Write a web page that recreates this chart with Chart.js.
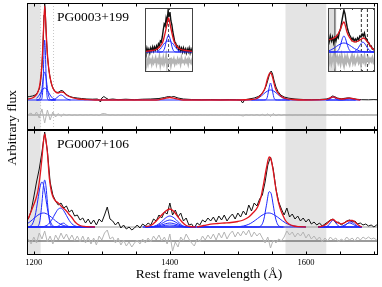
<!DOCTYPE html>
<html>
<head>
<meta charset="utf-8">
<script src="https://cdn.jsdelivr.net/npm/chart.js@4.4.1/dist/chart.umd.min.js"></script>
<style>
body{margin:0;background:#fff;width:382px;height:287px;overflow:hidden;position:relative;font-family:"Liberation Serif","Times New Roman",serif;}
canvas{position:absolute;}
.lab{position:absolute;font-size:13.5px;line-height:13.5px;white-space:nowrap;color:#000;}
</style>
</head>
<body>
<canvas id="top" width="382" height="131" style="left:0;top:0"></canvas>
<canvas id="bot" width="382" height="157" style="left:0;top:130px"></canvas>
<canvas id="in1" width="48" height="64" style="left:145px;top:8px"></canvas>
<canvas id="in2" width="47" height="64" style="left:328px;top:8px"></canvas>
<div class="lab" style="left:57px;top:10px">PG0003+199</div>
<div class="lab" style="left:57px;top:137px">PG0007+106</div>
<div class="lab" style="left:-28.5px;top:120.75px;width:80px;text-align:center;transform:rotate(-90deg)">Arbitrary flux</div>
<div class="lab" style="left:109px;top:267px;width:200px;text-align:center">Rest frame wavelength (Å)</div>
<script>
// -------- axes
const xMin = 1190, xMax = 1706;
const axisTicks = [1200,1250,1300,1350,1400,1450,1500,1550,1600,1650,1700];
const tickLabels = [1200,1400,1600];
const bands = [[1190,1210],[1570,1630]];
const topMarks = [1210,1229];

// common wavelength grid (4 A) used by the noisy spectra
const gridWave = [1192,1196,1200,1204,1208,1212,1216,1220,1224,1228,
	1232,1236,1240,1244,1248,1252,1256,1260,1264,1268,
	1272,1276,1280,1284,1288,1292,1296,1300,1304,1308,
	1312,1316,1320,1324,1328,1332,1336,1340,1344,1348,
	1352,1356,1360,1364,1368,1372,1376,1380,1384,1388,
	1392,1396,1400,1404,1408,1412,1416,1420,1424,1428,
	1432,1436,1440,1444,1448,1452,1456,1460,1464,1468,
	1472,1476,1480,1484,1488,1492,1496,1500,1504,1508,
	1512,1516,1520,1524,1528,1532,1536,1540,1544,1548,
	1552,1556,1560,1564,1568,1572,1576,1580,1584,1588,
	1592,1596,1600,1604,1608,1612,1616,1620,1624,1628,
	1632,1636,1640,1644,1648,1652,1656,1660,1664,1668,
	1672,1676,1680,1684,1688,1692,1696,1700,1704,1708];

// -------- PG0003+199 (top)
const topWave = [1190,1194,1198,1202,1205,1208,1210,1212,1213.5,1215,
	1216,1217,1218.5,1220,1222,1224,1226,1228,1231,1234,
	1237,1240,1243,1246,1249,1253,1258,1264,1270,1278,
	1286,1294,1298,1300,1303,1306,1310,1316,1324,1335,
	1348,1360,1372,1384,1392,1398,1402,1406,1412,1420,
	1432,1446,1460,1474,1488,1498,1504,1507,1510,1516,
	1524,1530,1535,1539,1542,1545,1547,1549,1551,1553,
	1556,1559,1563,1568,1575,1584,1596,1608,1620,1630,
	1635,1639,1642,1646,1652,1658,1663,1668,1674,1682,
	1692,1700,1706];
const topFlux = [3,3.5,4,5,7,11,18,34,55,85,
	96,88,62,44,31,22,16,12,9,7.5,
	8,9.5,9,7,5,3.5,2.5,2,1.5,1,
	0.8,1,-2,2,3.5,2,0.5,1,0.3,0.8,
	0.3,0.8,1,1.5,2.5,3.5,3,3.5,2,1,
	0.5,0.3,0.5,0.2,0.5,0.3,0,-3,0.2,1,
	2,3.5,6,10,15,22,27,29,26,20,
	13,8.5,5,3,1.8,1,0.5,0.3,0.5,1,
	2,4,3.5,2,1.2,1.8,2.2,1.5,0.8,0.3,
	0.2,0.4,0.2];
const topModelWave = [1190,1198,1202,1206,1209,1212,1214,1216,1218,1220,
	1222,1225,1228,1232,1236,1240,1244,1248,1252,1258,
	1265,1275,1290,1380,1392,1400,1408,1420,1500,1520,
	1526,1531,1536,1540,1543,1546,1548,1550,1552,1555,
	1559,1564,1570,1580,1600,1625,1632,1636,1640,1644,
	1650,1656,1660,1664,1668,1674,1680];
const topModel = [1,2,4,8,16,36,65,94,70,46,
	31,19,12,8,7,8,7.5,5,3.5,2,
	1,0.5,0,0,1.5,2.5,1.5,0,0,0.5,
	1,3,7,12,20,26,27,25,20,12,
	7,3.5,1.5,0.5,0,0.3,1,2.2,3.2,2.2,
	1,1,1.6,1.8,1.5,0.6,0];
const topLyaWave = [1204,1208,1210,1212,1213.5,1215,1216,1217,1218.5,1220,1222,1224,1228,1232];
const topLyaNarrow = [0,0,0,1.7,15,48,60,48,15,1.7,0,0,0,0];
const topLyaMid = [0,0.8,3.8,11.5,19.8,26.5,28,26.5,19.8,11.5,3.8,0.8,0,0];
const topLyaBroad = [1.6,4.9,7.3,9.6,10.9,11.8,12,11.8,10.9,9.6,7.3,4.9,1.6,0.3];
const topNvWave = [1226,1230,1234,1238,1240,1242,1246,1250,1254];
const topNv = [0.1,0.7,2.4,4.6,5,4.6,2.4,0.7,0.1];
const topCivWave = [1520,1526,1532,1538,1540,1543,1546,1548,1550,1553,1556,1558,1564,1570,1576];
const topCivNarrow = [0,0,0,0,0.1,2.3,12.3,17,12.3,2.3,0.1,0,0,0,0];
const topCivBroad = [0.2,0.9,2.8,6.1,7.3,8.8,9.8,10,9.8,8.8,7.3,6.1,2.8,0.9,0.2];
const topHeWave = [1630,1634,1637,1640,1643,1646,1650,1655,1660,1664,1668,1673];
const topHe = [0,0.4,1.8,3,1.8,0.4,0,0,0,0,0,0];
const topO3 = [0,0,0,0,0,0,0,0.1,0.9,1.5,0.9,0.1];
const topRes = [-14.5,-13,-16,-12,-18,-9,-23,-10,-20,-12,
	-17,-13.5,-16.5,-14,-15.5,-14.5,-15.5,-14.8,-15.4,-14.7,
	-15.3,-14.8,-15.2,-14.6,-15.3,-14.8,-15.6,-13.8,-13.5,-14.5,
	-15.2,-14.8,-15.3,-14.9,-15.2,-14.8,-15.1,-14.9,-15.2,-14.8,
	-15.2,-14.9,-15.1,-14.8,-15.2,-14.9,-15.3,-14.7,-15.2,-14.6,
	-15.4,-14.5,-15.5,-14.7,-15.3,-14.8,-15.1,-14.9,-15.2,-14.8,
	-15.1,-14.9,-15.2,-14.8,-15.1,-14.9,-15.2,-14.8,-15.1,-14.9,
	-15.2,-14.8,-15.1,-14.9,-15.2,-14.8,-15.1,-14.9,-15.4,-16,
	-14.6,-15.3,-14.7,-15.4,-14.5,-15.6,-14.3,-15.8,-13.8,-16.5,
	-13.5,-15.8,-14.4,-15.5,-14.6,-15.4,-14.5,-15.5,-14.6,-15.3,
	-14.7,-15.4,-14.6,-15.3,-14.7,-15.2,-14.8,-15.2,-14.8,-15.3,
	-14.7,-15.4,-14.6,-15.2,-14.8,-15.2,-14.8,-15.1,-14.9,-15.2,
	-14.8,-15.1,-14.9,-15.2,-14.8,-15.1,-14.9,-15.2,-14.8,-15];

// -------- PG0007+106 (bottom)
const botFlux = [8,16,30,45,58,75,95,76,45,32,
	26,22,24,19,21,15,17,11,12,7,
	9,4,8,3,7,2,8,5,12,20,
	8,6,2,5,-1,2,-2,0,-3,-1,
	2,-1,3,1,4,2,8,6,12,9,
	15,13,24,12,17,10,14,6,9,2,
	3,-1,4,2,7,5,9,6,10,5,
	11,7,12,6,10,13,8,14,10,16,
	12,22,16,24,21,28,32,45,62,70,
	58,38,25,18,12,19,10,13,8,11,
	6,9,5,8,3,5,2,4,1,3,
	5,7,8,4,5,2,4,6,7,5,
	6,3,4,2,3,1,2,0,2,1];
const botRes = [-12,-17,-10,-16,-6,-12,-4,-15,-9,-17,
	-8,-13,-6,-12,-7,-13,-8,-14,-9,-15,
	-9,-16,-10,-17,-11,-18,-9,-13,-6,-3,
	-12,-10,-16,-11,-18,-13,-19,-15,-20,-16,
	-13,-17,-12,-16,-11,-15,-9,-13,-8,-14,
	-10,-17,-7,-24,-15,-20,-10,-14,-7,-12,
	-16,-19,-12,-15,-9,-13,-8,-12,-7,-13,
	-6,-11,-5,-12,-7,-4,-10,-5,-9,-4,
	-8,-3,-10,-5,-9,-6,-11,-16,-10,-21,
	-13,-16,-12,-14,-10,-4,-8,-5,-10,-6,
	-9,-5,-11,-7,-12,-9,-13,-10,-15,-11,
	-14,-10,-13,-11,-15,-12,-14,-10,-13,-11,
	-14,-10,-13,-10,-12,-10,-12,-11,-13,-12];
const botLyaWave = [1190,1194,1198,1202,1206,1209,1212,1214,1216,1218,1220,1223,1226,1229,1232,1236,1240,1244,1248,1252,1256,1260,1264,1268,1274,1282,1290];
const botLyaModel = [6,12,19,26,36,50,69,84,93,86,74,48,35,29,26,24,21,18.5,16,12.5,9.5,5.5,3,1.5,0.6,0.2,0];
const botLyaA = [0,0.5,3,11.2,27.3,39.7,45,42.6,36,27.3,18.4,8.4,3,0.8,0.2,0,0,0,0,0,0,0,0,0,0,0,0];
const botLyaB = [0,0,0,0,0.8,6.3,24.6,40,47,40,24.6,6.3,0.8,0,0,0,0,0,0,0,0,0,0,0,0,0,0];
const botLyaC = [0,0,0,0,0.1,0.1,0.2,0.4,0.7,1.3,2,3.9,6.7,10.3,14,18,18.9,16.3,11.5,6.7,3.2,1.3,0.4,0.1,0,0,0];
const botLyaD = [0,0,0,0,0,0,0,0,0,0,0,0,0,0,0.1,0.9,3,3.9,1.8,0.3,0,0,0,0,0,0,0];
const botLyaE = [3.2,5,7.3,9.7,11.9,13.1,13.9,14,13.9,13.4,12.8,11.4,9.7,7.9,6.1,4.1,2.5,1.4,0.7,0.3,0.1,0,0,0,0,0,0];
const siWave = [1364,1372,1380,1388,1394,1400,1406,1412,1418,1424,1430,1438];
const siModel = [0.5,1.5,6,12,16,18,15.5,10,5,1.5,0.5,0];
const si1 = [0,0.2,1.5,5.4,9.2,11,9.2,5.4,1.5,0.2,0,0];
const si2 = [0,0.1,1,3.4,5.8,7,5.8,3.4,1,0.1,0,0];
const si3 = [0,0.1,0.5,2,3.3,4,3.3,2,0.5,0.1,0,0];
const si4 = [0,0,0.3,1,1.7,2,1.7,1,0.3,0,0,0];
const civWave = [1440,1450,1460,1470,1480,1490,1500,1508,1516,1522,1529,1534,1538,1542,1546,1549,1552,1555,1558,1562,1566,1570,1575,1582,1590,1600];
const civModel = [0,1.5,2.8,3.5,4,4.5,5.5,7,10,14,20,30,44,59,70,67,56,42,30,19,12,6.5,3,1,0.3,0];
const civNarrow = [0,0,0,0,0,0,0,0,0,0,0,1.2,7.1,21.8,35.3,33.2,21.8,10,3.2,0.4,0,0,0,0,0,0];
const civBroad = [0,0,0,0,0,0,0.3,1,2.7,5,8.5,11.1,12.7,13.8,14,13.6,12.7,11.5,10.1,8,5.9,4.1,2.4,1,0.3,0.1];
const heWave = [1618,1624,1628,1632,1636,1640,1644,1648,1652,1656,1660,1664,1668,1672,1676,1682];
const heModel = [0,0.8,2,4,6.5,7.5,5.5,3.8,3.2,4,5.5,6.5,6.5,5,2.5,0];
const heII = [0,0,0.1,0.9,4.2,7,4.2,0.9,0.1,0,0,0,0,0,0,0];
const o3a = [0,0,0,0,0,0,0,0,0.1,0.7,2.7,5.1,5.1,2.7,0.7,0];
const o3b = [0,0,0,0,0,0,0,0.1,0.5,1.6,3.2,4,3.2,1.6,0.5,0.1];
const botBaseStart = [1190,1360,1618];
const botBaseEnd = [1265,1567,1682];

// -------- inset 1
const in1Wave = [1500,1502,1504,1506,1508,1510,1512,1514,1516,1518,
	1520,1522,1524,1526,1528,1530,1532,1534,1536,1538,
	1540,1542,1544,1546,1548,1550,1552,1554,1556,1558,
	1560,1562,1564,1566,1568,1570,1572,1574,1576,1578,
	1580,1582,1584,1586,1588,1590,1592,1594,1596,1598,1600];
const in1Flux = [3,-1,4,0,3,-1,4,1,5,1,
	5,2,6,3,8,6,11,10,15,22,
	28,26,34,30,41,36,40,31,27,20,
	15,10,9,5,6,2,5,1,4,0,
	4,0,3,-1,3,0,4,-1,3,0,2];
const in1Res = [-7,-11,-8,-12,-6,-10,-8,-12,-7,-11,
	-9,-6,-12,-8,-10,-5,-13,-8,-11,-6,
	-12,-9,-4,-14,-9,-11,-6,-13,-8,-10,
	-7,-12,-9,-11,-7,-10,-8,-12,-6,-10,
	-9,-11,-7,-10,-8,-12,-7,-9,-11,-8,-10];
const in1ModelWave = [1500,1515,1525,1532,1537,1541,1545,1549,1553,1557,1561,1566,1573,1585,1600];
const in1Model = [0.5,1.5,3,6,10,17,26,34,26,17,10,6,3,1.5,0.5];
const in1CompWave = [1525,1531,1537,1541,1545,1549,1553,1557,1561,1567,1573];
const in1Narrow = [0,0,0.5,4,12,17,12,4,0.5,0,0];
const in1Broad = [0.5,2.5,6.5,9,10.5,11,10.5,9,6.5,2.5,0.5];

// -------- inset 2
const in2Wave = [1195,1196.5,1198,1199.5,1201,1202.5,1204,1205.5,1207,1208.5,
	1210,1211.5,1213,1214.5,1216,1217.5,1219,1220.5,1222,1223.5,
	1225,1226.5,1228,1229.5,1231,1232.5,1234,1235.5,1237,1238.5,
	1240,1241.5,1243,1244.5,1246,1247.5,1249,1250.5,1252,1253.5,1255,1256.5];
const in2Flux = [14,10,16,11,15,9,14,11,16,14,
	20,23,30,36,42,38,30,24,20,17,
	15,12,14,11,13,11,14,12,16,15,
	18,16,19,14,13,10,9,6,6,3,3,1];
const in2Res = [-6,-10,-5,-11,-7,-4,-12,-8,-5,-10,
	-6,-11,-4,-9,-13,-6,-10,-5,-9,-12,
	-7,-4,-10,-6,-11,-8,-5,-10,-7,-12,
	-6,-9,-5,-11,-8,-6,-10,-7,-9,-6,-10,-8];
const in2ModelWave = [1195,1200,1205,1209,1212,1214,1216,1218,1220,1223,1227,1231,1235,1239,1242,1245,1249,1253,1257];
const in2Model = [12,13,15,19,24,28,30,26,20,15,11,10,11,13,14,12,8,4,1.5];
const in2CompWave = [1195,1199,1203,1206,1209,1212,1214,1216,1218,1220,1223,1226,1230,1234,1237,1241,1245,1248,1252,1256];
const in2Narrow = [0,0,0,0.3,2.2,8.3,13.6,16,13.6,8.3,2.2,0.3,0,0,0,0,0,0,0,0];
const in2Broad = [1,2.1,3.9,5.5,7,8.3,8.8,9,8.8,8.3,7,5.5,3.4,1.8,1,0.4,0.1,0,0,0];
const in2Nv = [0,0,0,0,0,0,0,0,0,0,0,0,0.5,3,6.7,10,6.7,3,0.5,0];
const in2Ticks = [1211,1226,1240,1254];

const RED = '#e0141e', BLUE = '#1e28ff', BLACK = '#111', GREY = '#b4b4b4';

function pts(xs, ys){ return xs.map(function(x,i){ return {x:x, y:ys[i]}; }); }
function flat(x0, x1, y){ return [{x:x0,y:y},{x:x1,y:y}]; }
function vert(x, y0, y1){ return [{x:x,y:y0},{x:x,y:y1}]; }
function segs(starts, ends, y){
	var d = [];
	starts.forEach(function(s,i){ d.push({x:s,y:y},{x:ends[i],y:y},{x:ends[i],y:null}); });
	return d;
}
function ds(data, color, width, order, extra){
	return Object.assign({data:data, borderColor:color, borderWidth:width, order:order, pointRadius:0, fill:false, tension:0}, extra||{});
}
const smooth = {cubicInterpolationMode:'monotone'};

// bands, frame and inward ticks drawn from the x scale
const decor = {
	id: 'decor',
	beforeDraw: function(chart, args, o){
		var a = chart.chartArea, ctx = chart.ctx, x = chart.scales.x;
		ctx.save();
		if(o.bg){ ctx.fillStyle = o.bg; ctx.fillRect(a.left, a.top, a.right-a.left, a.bottom-a.top); }
		(o.bands||[]).forEach(function(b){
			var p0 = Math.max(a.left, x.getPixelForValue(b[0]));
			var p1 = Math.min(a.right, x.getPixelForValue(b[1]));
			ctx.fillStyle = o.bandColor;
			ctx.fillRect(p0, a.top, p1-p0, a.bottom-a.top);
		});
		ctx.restore();
	},
	afterDatasetsDraw: function(chart, args, o){
		var a = chart.chartArea, ctx = chart.ctx, x = chart.scales.x;
		ctx.save();
		ctx.strokeStyle = o.frame;
		ctx.lineWidth = 1;
		ctx.strokeRect(a.left+0.5, a.top+0.5, a.right-a.left-1, a.bottom-a.top-1);
		ctx.beginPath();
		(o.ticks||[]).forEach(function(v){
			var p = Math.round(x.getPixelForValue(v))+0.5;
			ctx.moveTo(p, a.top); ctx.lineTo(p, a.top+o.tickLen);
			ctx.moveTo(p, a.bottom); ctx.lineTo(p, a.bottom-o.tickLen);
		});
		ctx.stroke();
		ctx.restore();
	}
};

function makeChart(id, datasets, xr, yr, pad, decorOpts, showLabels){
	var xScale = {type:'linear', min:xr[0], max:xr[1], display:!!showLabels,
		grid:{display:false, drawTicks:false}, border:{display:false},
		ticks:{autoSkip:false, maxRotation:0, padding:3, color:'#000',
			font:{family:'Liberation Serif', size:8.5},
			callback:function(v){ return String(v); }}
	};
	if(showLabels){
		xScale.afterBuildTicks = function(s){ s.ticks = tickLabels.map(function(v){ return {value:v}; }); };
		xScale.afterFit = function(s){ s.height = 32; s.paddingLeft = 0; s.paddingRight = 0; };
	}
	return new Chart(document.getElementById(id), {
		type:'line',
		data:{datasets:datasets},
		options:{
			responsive:false, animation:false, events:[], devicePixelRatio:1,
			layout:{padding:pad},
			plugins:{legend:{display:false}, tooltip:{enabled:false}, decor:decorOpts},
			scales:{x:xScale, y:{type:'linear', min:yr[0], max:yr[1], display:false}}
		},
		plugins:[decor]
	});
}

// top panel
makeChart('top', [
	ds(vert(topMarks[0],-30,97), '#c8c8c8', 1, 12, {borderDash:[1,2]}),
	ds(vert(topMarks[1],-30,97), '#c8c8c8', 1, 12, {borderDash:[1,2]}),
	ds(flat(xMin,xMax,-15), '#8c8c8c', 1, 11),
	ds(pts(gridWave,topRes), GREY, 1, 10),
	ds(pts(topWave,topFlux), BLACK, 1, 6),
	ds(flat(1190,1680,0), BLUE, 1.2, 4),
	ds(pts(topLyaWave,topLyaNarrow), BLUE, 1, 3, smooth),
	ds(pts(topLyaWave,topLyaMid), BLUE, 1, 3, smooth),
	ds(pts(topLyaWave,topLyaBroad), BLUE, 1, 3, smooth),
	ds(pts(topNvWave,topNv), BLUE, 1, 3, smooth),
	ds(pts(topCivWave,topCivNarrow), BLUE, 1, 3, smooth),
	ds(pts(topCivWave,topCivBroad), BLUE, 1, 3, smooth),
	ds(pts(topHeWave,topHe), BLUE, 1, 3, smooth),
	ds(pts(topHeWave,topO3), BLUE, 1, 3, smooth),
	ds(pts(topModelWave,topModel), RED, 1.3, 1, smooth)
], [xMin,xMax], [-30,97], {left:27, right:4, top:3, bottom:1},
	{bands:bands, bandColor:'#e4e4e4', frame:'#000', ticks:axisTicks, tickLen:3.5}, false);

// bottom panel
makeChart('bot', [
	ds(flat(xMin,xMax,0), '#9a9a9a', 1, 12),
	ds(flat(xMin,xMax,-14), '#7a7a7a', 1.4, 11),
	ds(pts(gridWave,botRes), GREY, 1, 10),
	ds(pts(gridWave,botFlux), BLACK, 1, 6),
	ds(segs(botBaseStart,botBaseEnd,0), BLUE, 1.3, 4),
	ds(pts(botLyaWave,botLyaA), BLUE, 1, 3, smooth),
	ds(pts(botLyaWave,botLyaB), BLUE, 1, 3, smooth),
	ds(pts(botLyaWave,botLyaC), BLUE, 1, 3, smooth),
	ds(pts(botLyaWave,botLyaD), BLUE, 1, 3, smooth),
	ds(pts(botLyaWave,botLyaE), BLUE, 1, 3, smooth),
	ds(pts(siWave,si1), BLUE, 1, 3, smooth),
	ds(pts(siWave,si2), BLUE, 1, 3, smooth),
	ds(pts(siWave,si3), BLUE, 1, 3, smooth),
	ds(pts(siWave,si4), BLUE, 1, 3, smooth),
	ds(pts(civWave,civNarrow), BLUE, 1, 3, smooth),
	ds(pts(civWave,civBroad), BLUE, 1, 3, smooth),
	ds(pts(heWave,heII), BLUE, 1, 3, smooth),
	ds(pts(heWave,o3a), BLUE, 1, 3, smooth),
	ds(pts(heWave,o3b), BLUE, 1, 3, smooth),
	ds(pts(botLyaWave,botLyaModel), RED, 1.3, 1, smooth),
	ds(pts(siWave,siModel), RED, 1.3, 1, smooth),
	ds(pts(civWave,civModel), RED, 1.3, 1, smooth),
	ds(pts(heWave,heModel), RED, 1.3, 1, smooth)
], [xMin,xMax], [-28,97], {left:27, right:4, top:0, bottom:0},
	{bands:bands, bandColor:'#e4e4e4', frame:'#000', ticks:axisTicks, tickLen:3.5}, true);

// inset 1
makeChart('in1', [
	ds(vert(1549,-20,44), '#555', 1, 12, {borderDash:[3,2]}),
	ds(flat(1500,1600,-10), '#777', 1, 11),
	ds(pts(in1Wave,in1Res), GREY, 2, 10),
	ds(pts(in1Wave,in1Flux), BLACK, 1.4, 6),
	ds(flat(1500,1600,0), BLUE, 1.2, 4),
	ds(pts(in1CompWave,in1Narrow), BLUE, 1, 3, smooth),
	ds(pts(in1CompWave,in1Broad), BLUE, 1, 3, smooth),
	ds(pts(in1ModelWave,in1Model), RED, 1.3, 1, smooth)
], [1500,1600], [-20,44], 0,
	{bg:'#fff', frame:'#444', ticks:[1549], tickLen:2}, false);

// inset 2
makeChart('in2', [
	ds(vert(1204,-20,44), '#777', 1.5, 12),
	ds(vert(1239,-20,44), '#333', 1, 12, {borderDash:[3,2]}),
	ds(vert(1247,-20,44), '#333', 1, 12, {borderDash:[3,2]}),
	ds(pts(in2Wave,in2Res), GREY, 2.5, 10),
	ds(pts(in2Wave,in2Flux), BLACK, 1.4, 6),
	ds(flat(1195,1257,0), BLUE, 1.2, 4),
	ds(pts(in2CompWave,in2Narrow), BLUE, 1, 3, smooth),
	ds(pts(in2CompWave,in2Broad), BLUE, 1, 3, smooth),
	ds(pts(in2CompWave,in2Nv), BLUE, 1, 3, smooth),
	ds(pts(in2ModelWave,in2Model), RED, 1.3, 1, smooth)
], [1195,1257], [-20,44], 0,
	{bg:'#fff', bands:[[1195,1206]], bandColor:'#dedede', frame:'#444', ticks:in2Ticks, tickLen:2}, false);
</script>
</body>
</html>
